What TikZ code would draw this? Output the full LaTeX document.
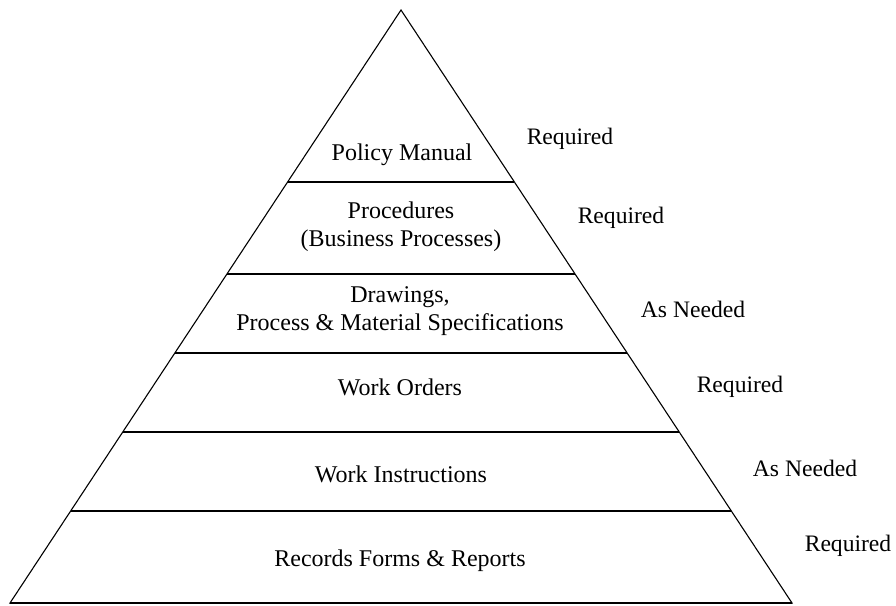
\documentclass[tikz,border=0pt]{standalone}
\usepackage{fontspec}
\setmainfont{Liberation Serif}
\usetikzlibrary{calc}
\begin{document}
\begin{tikzpicture}[x=1pt,y=-1pt,
  edge/.style={line width=1.1pt,line join=miter},
  tier/.style={line width=1.4pt},
  label/.style={font=\fontsize{24}{28}\selectfont,inner sep=0pt,align=center},
  need/.style={font=\fontsize{23.6}{28}\selectfont,inner sep=0pt}]
  \useasboundingbox (0,0) rectangle (896,605);
  % pyramid outline
  \coordinate (apex) at (401,10);
  \coordinate (bl) at (10,603);
  \coordinate (br) at (792,603);
  \draw[edge] (apex) -- (bl) -- (br) -- cycle;
  % tier dividers
  \foreach \t [count=\i] in {0.2901,0.4452,0.5784,0.7116,0.8449} {
    \coordinate (l\i) at ($(apex)!\t!(bl)$);
    \coordinate (r\i) at ($(apex)!\t!(br)$);
    \draw[tier] (l\i) -- (r\i);
  }
  \draw[tier] (bl) -- (br);
  % tier names
  \node[label] (policy) at (402,155) {Policy Manual};
  \node[label] (proc) at (401,227) {Procedures\\(Business Processes)};
  \node[label] (draw) at (400,311) {Drawings,\\Process \& Material Specifications};
  \node[label] (wo) at (400,387) {Work Orders};
  \node[label] (wi) at (401,474) {Work Instructions};
  \node[label] (rec) at (400,561) {Records Forms \& Reports};
  % requirement notes
  \node[need] (n1) at (570,139) {Required};
  \node[need] (n2) at (621,218) {Required};
  \node[need] (n3) at (693,309) {As Needed};
  \node[need] (n4) at (740,387) {Required};
  \node[need] (n5) at (805,468) {As Needed};
  \node[need] (n6) at (848,546) {Required};
\end{tikzpicture}
\end{document}
